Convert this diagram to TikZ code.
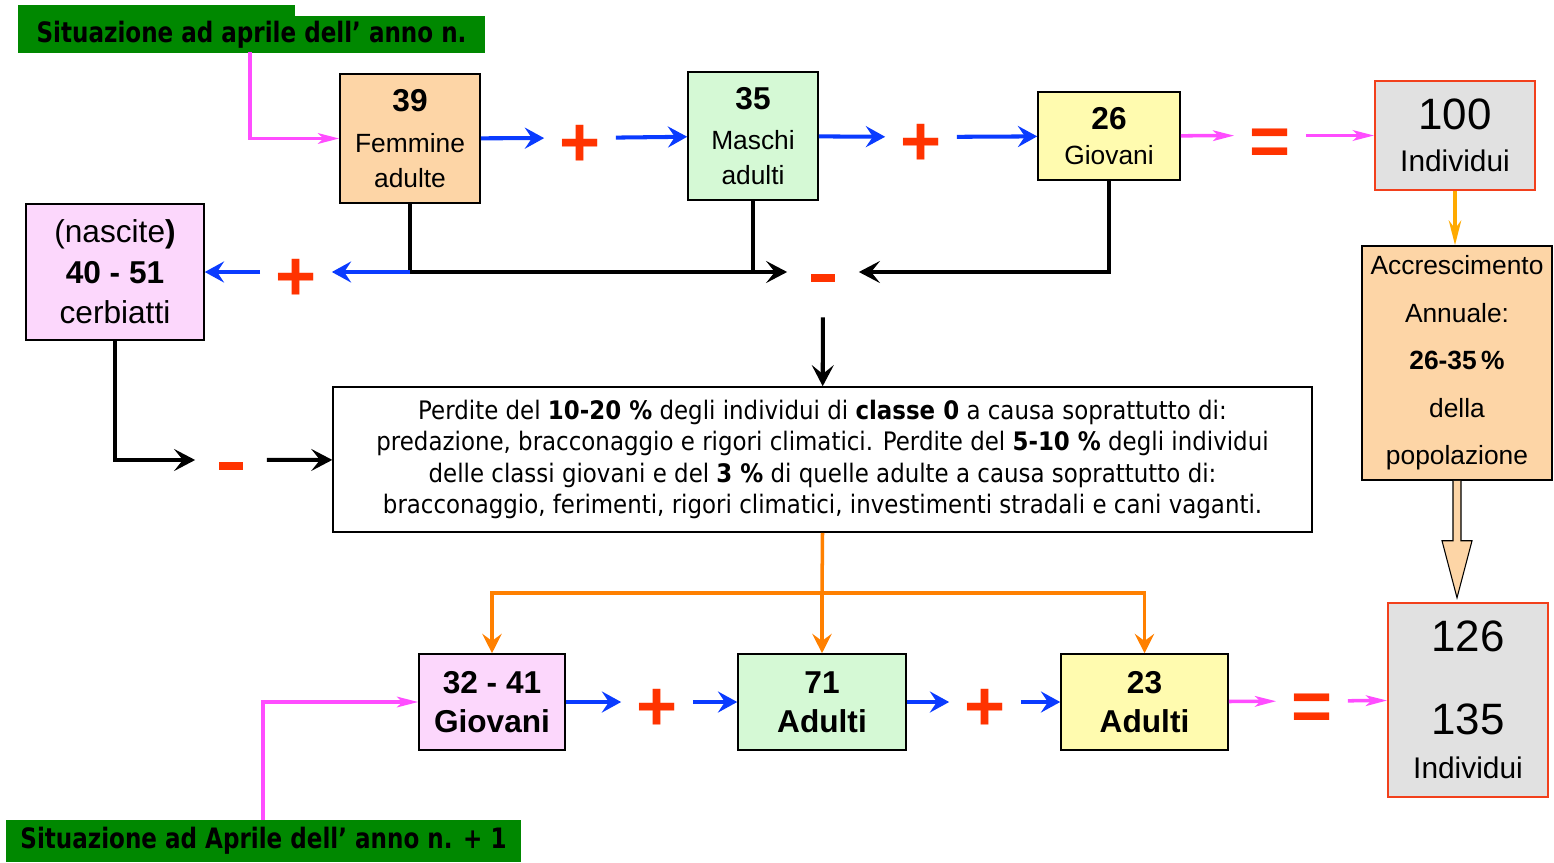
\documentclass[tikz,border=0pt]{standalone}
\usepackage{fontspec}
\setmainfont{Liberation Sans}
\newfontfamily\tahomalike[FakeStretch=0.9]{DejaVu Sans}
\newfontfamily\labelfont[FakeStretch=0.82]{DejaVu Sans}
\usetikzlibrary{arrows.meta,positioning}
\usepackage{xcolor}
\definecolor{peach}{HTML}{FDD5A6}
\definecolor{mint}{HTML}{D5F9D5}
\definecolor{lemon}{HTML}{FFFBAF}
\definecolor{lilac}{HTML}{FCD7FC}
\definecolor{ash}{HTML}{E1E1E1}
\definecolor{frame}{HTML}{F2401C}
\definecolor{opred}{HTML}{FF3300}
\definecolor{flowblue}{HTML}{0A3BFF}
\definecolor{flowpink}{HTML}{FF4DFF}
\definecolor{floworange}{HTML}{FF8000}
\definecolor{gold}{HTML}{FFAA00}
\definecolor{labgreen}{HTML}{008800}
% operator glyphs, pushed a little below the arrow line
\newcommand{\opplus}{\rule{0pt}{32pt}+}
\newcommand{\opeq}{\rule{0pt}{34pt}=}
\newcommand{\opminus}{\rule{0pt}{11.3pt}\rule{13.6pt}{4.5pt}}

\begin{document}
\begin{tikzpicture}[x=0.02cm,y=-0.02cm,
  box/.style={draw=black,line width=0.9pt,align=center,inner sep=0pt},
  total/.style={box,draw=frame,line width=1.1pt,fill=ash},
  op/.style={text=opred,font=\bfseries\fontsize{40}{40}\selectfont,
    minimum width=1.42cm,minimum height=1.8cm,inner sep=0pt},
  tag/.style={fill=labgreen,inner sep=0pt,
    font=\labelfont\bfseries\fontsize{16}{19}\selectfont},
  bluearr/.style={flowblue,line width=2.3pt,-{Stealth[length=11pt,width=12pt,inset=4pt]}},
  pinkarr/.style={flowpink,line width=2pt,-{Stealth[length=12pt,width=6pt,inset=3pt]}},
  blackarr/.style={black,line width=2.3pt,-{Stealth[length=12pt,width=12.5pt,inset=5pt]}},
  orangearr/.style={floworange,line width=2pt,-{Stealth[length=11pt,width=11pt,inset=4pt]}},
]
  \useasboundingbox (0,0) rectangle (1554,862);

  % year n
  \fill[labgreen] (18,5) rectangle (295,20);
  \node[tag,minimum width=9.34cm,minimum height=0.74cm] (lab1) at (251.5,34.5)
    {Situazione ad aprile dell’ anno n.};
  \coordinate (s1) at (250,52);

  \node[box,fill=peach,minimum width=2.8cm,minimum height=2.58cm,font=\fontsize{15}{20}\selectfont]
    (fem) at (410,138.5) {{\bfseries\fontsize{18}{22}\selectfont 39}\\[3pt]Femmine\\adulte};
  \node[box,fill=mint,minimum width=2.6cm,minimum height=2.56cm,font=\fontsize{15}{20}\selectfont]
    (mas) at (753,136) {{\bfseries\fontsize{18}{22}\selectfont 35}\\[3pt]Maschi\\adulti};
  \node[box,fill=lemon,minimum width=2.84cm,minimum height=1.76cm,font=\fontsize{15}{20}\selectfont]
    (gio) at (1109,136) {{\bfseries\fontsize{18}{22}\selectfont 26}\\Giovani};
  \node[total,minimum width=3.2cm,minimum height=2.18cm,font=\fontsize{17}{24}\selectfont]
    (ind) at (1455,135.5) {{\fontsize{25}{28}\selectfont 100}\\Individui};

  \node[op] (p1) at (580,138) {\opplus};
  \node[op] (p2) at (921,137) {\opplus};
  \node[op] (eq1) at (1270,135.5) {\opeq};

  \draw[pinkarr] (s1) |- (fem);
  \draw[bluearr] (fem) -- (p1);
  \draw[bluearr] (p1) -- (mas);
  \draw[bluearr] (mas) -- (p2);
  \draw[bluearr] (p2) -- (gio);
  \draw[pinkarr] (gio) -- (eq1);
  \draw[pinkarr] (eq1) -- (ind);

  % growth
  \node[box,fill=peach,minimum width=3.8cm,minimum height=4.68cm,font=\fontsize{15}{27}\selectfont]
    (acc) at (1457,363) {Accrescimento\\Annuale:\\\textbf{26-35\,\%}\\della\\popolazione};
  \draw[gold,line width=2.3pt,-{Stealth[length=14pt,width=7pt]}] (ind.south) -- (ind.south |- acc.north);
  \draw[fill=peach,line width=0.6pt] (acc.south) ++(-4,0) -- ++(0,60) -- ++(-11,0)
    -- ++(15,57) -- ++(15,-57) -- ++(-11,0) -- ++(0,-60);

  % births and losses
  \node[box,fill=lilac,minimum width=3.56cm,minimum height=2.72cm,font=\fontsize{18}{23}\selectfont]
    (nas) at (115,272) {(nascite\textbf{)}\\\textbf{40 - 51}\\cerbiatti};
  \node[op] (m1) at (823,272) {\opminus};
  \node[op] (p3) at (296,272) {\opplus};
  \coordinate (jf) at (fem.south |- m1);
  \draw[blackarr] (fem.south) |- (m1);
  \draw[black,line width=2.3pt] (mas.south) -- (mas.south |- m1);
  \draw[blackarr] (gio.south) |- (m1);
  \draw[bluearr] (jf) -- (p3);
  \draw[bluearr] (p3) -- (nas);

  \node[box,fill=white,minimum width=19.58cm,minimum height=2.9cm,
    font=\tahomalike\fontsize{14.5}{18}\selectfont] (perd) at (822.5,459.5)
    {Perdite del \textbf{10-20 \%} degli individui di \textbf{classe 0} a causa soprattutto di:\\
     predazione, bracconaggio e rigori climatici. Perdite del \textbf{5-10 \%} degli individui\\
     delle classi giovani e del \textbf{3 \%} di quelle adulte a causa soprattutto di:\\
     bracconaggio, ferimenti, rigori climatici, investimenti stradali e cani vaganti.};
  \draw[blackarr] (m1) -- (perd);
  \node[op] (m2) at (231,460) {\opminus};
  \draw[blackarr] (nas.south) |- (m2);
  \draw[blackarr] (m2) -- (perd);

  % year n + 1
  \node[box,fill=lilac,minimum width=2.92cm,minimum height=1.92cm,font=\bfseries\fontsize{18}{22}\selectfont]
    (gnew) at (492,702) {32 - 41\\Giovani};
  \node[box,fill=mint,minimum width=3.36cm,minimum height=1.92cm,font=\bfseries\fontsize{18}{22}\selectfont]
    (ad71) at (822,702) {71\\Adulti};
  \node[box,fill=lemon,minimum width=3.34cm,minimum height=1.92cm,font=\bfseries\fontsize{18}{22}\selectfont]
    (ad23) at (1144.5,702) {23\\Adulti};
  \node[total,minimum width=3.2cm,minimum height=3.88cm,font=\fontsize{17}{25}\selectfont]
    (fin) at (1468,700) {{\fontsize{25}{28}\selectfont 126}\\[22pt]{\fontsize{25}{28}\selectfont 135}\\Individui};

  \coordinate (split) at (822,593);
  \draw[floworange,line width=2pt] (perd.south) -- (split);
  \draw[orangearr] (split) -| (gnew.north);
  \draw[orangearr] (split) -- (ad71.north);
  \draw[orangearr] (split) -| (ad23.north);

  \node[op] (p4) at (657,702) {\opplus};
  \node[op] (p5) at (985,702) {\opplus};
  \node[op] (eq2) at (1312,701) {\opeq};
  \draw[bluearr] (gnew) -- (p4);
  \draw[bluearr] (p4) -- (ad71);
  \draw[bluearr] (ad71) -- (p5);
  \draw[bluearr] (p5) -- (ad23);
  \draw[pinkarr] (ad23) -- (eq2);
  \draw[pinkarr] (eq2) -- (fin);

  \node[tag,minimum width=10.3cm,minimum height=0.84cm] (lab2) at (263.5,841)
    {Situazione ad Aprile dell’ anno n. + 1};
  \coordinate (s2) at (263,820);
  \draw[pinkarr] (s2) |- (gnew);
\end{tikzpicture}
\end{document}
